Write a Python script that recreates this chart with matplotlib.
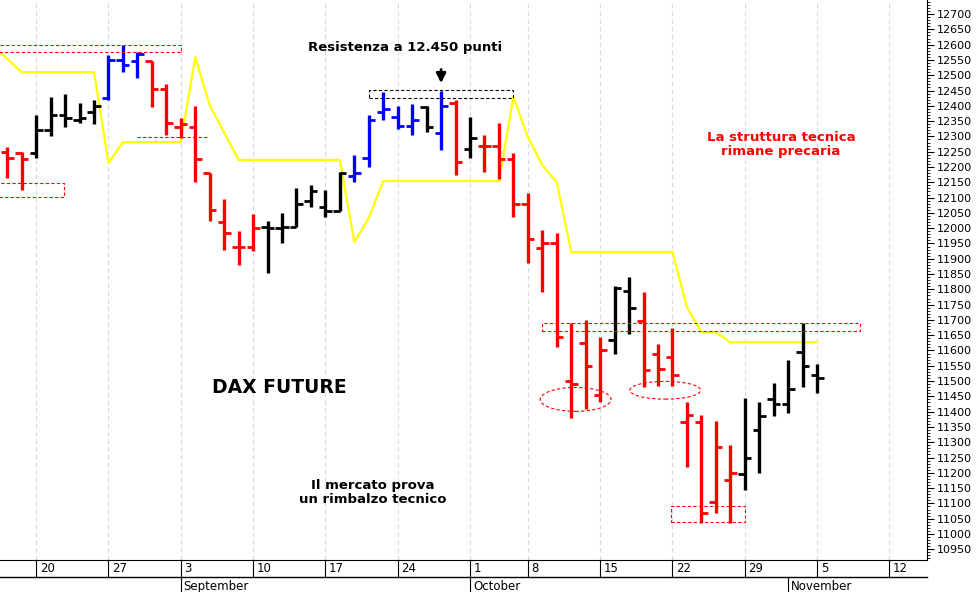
import matplotlib
matplotlib.use("Agg")
import matplotlib.pyplot as plt
from matplotlib.patches import Rectangle, Ellipse
import matplotlib.transforms as mtransforms

# OHLC bars (trading-day index 0 = Aug 16)
opens  = [12250,12245,12245,12320,12370,12355,12380,12425,12550,12545,12545,12455,12330,12330,12180,12020,11940,11940,12005,12000,12005,12090,12070,12055,12170,12230,12380,12365,12335,12395,12310,12410,12260,12270,12270,12225,12080,11935,11950,11500,11625,11455,11635,11795,11695,11590,11580,11365,11365,11105,11175,11195,11340,11440,11425,11595,11520]
highs  = [12265,12250,12370,12430,12440,12410,12420,12565,12600,12575,12545,12470,12360,12400,12180,12095,11990,12045,12025,12050,12130,12140,12125,12185,12240,12370,12445,12400,12405,12400,12450,12420,12365,12305,12345,12245,12115,11995,11985,11690,11700,11645,11810,11840,11790,11620,11675,11430,11390,11370,11290,11445,11430,11495,11570,11690,11555]
lows   = [12163,12125,12230,12300,12330,12345,12340,12420,12510,12490,12395,12305,12295,12150,12025,11930,11880,11925,11855,11950,12005,12070,12035,12055,12150,12200,12355,12325,12305,12315,12255,12175,12230,12185,12160,12035,11885,11790,11610,11380,11410,11430,11590,11655,11480,11485,11485,11220,11035,11070,11035,11145,11200,11385,11395,11480,11460]
closes = [12230,12225,12320,12370,12360,12360,12400,12550,12535,12570,12455,12345,12340,12225,12060,11985,11940,12000,12000,12005,12080,12120,12055,12180,12180,12355,12390,12335,12355,12330,12400,12215,12295,12270,12225,12080,11965,11950,11645,11490,11550,11600,11805,11740,11535,11540,11520,11390,11070,11285,11200,11250,11385,11425,11475,11550,11510]
colors = (['red']*2 + ['black']*5 + ['blue']*3 + ['red']*8 + ['black']*6 + ['blue']*5
          + ['black'] + ['blue'] + ['red'] + ['black'] + ['red']*9 + ['black']*2
          + ['red']*7 + ['black']*6)

# Yellow line vertices (index, value)
yel_x = [-0.5,1,6,7,8,12,13,14,16,23,24,25,26,34,35,36,37,38,39,46,47,48,49,50,56]
yel_y = [12576,12510,12510,12213,12281,12281,12560,12402,12223,12223,11955,12033,12154,12154,12429,12298,12206,12150,11922,11922,11742,11660,11660,11627,11627]

week_idx = [2,7,12,17,22,27,32,36,41,46,51,56,61]
week_lbl = ['20','27','3','10','17','24','1','8','15','22','29','5','12']
month_idx = [12,32,54]
month_lbl = ['September','October','November']

fig = plt.figure(figsize=(9.76,5.92), dpi=100)
ax = fig.add_axes([0, 32/592, 927/976, 560/592])
ax.set_xlim(-0.5, 63.6)
ax.set_ylim(10915, 12746)

for i in week_idx:
    ax.axvline(i, color='#d8d8ee', ls=(0,(4,3)), lw=0.8, zorder=0)

ax.plot(yel_x, yel_y, color='#ffff00', lw=1.6, zorder=2)

for i,(o,h,l,c,col) in enumerate(zip(opens,highs,lows,closes,colors)):
    ax.plot([i,i],[l,h], color=col, lw=2.4, solid_capstyle='butt', zorder=3)
    ax.plot([i-0.45,i],[o,o], color=col, lw=2.0, solid_capstyle='butt', zorder=3)
    ax.plot([i,i+0.45],[c,c], color=col, lw=2.0, solid_capstyle='butt', zorder=3)

def rect(x0,x1,y0,y1,col):
    ax.add_patch(Rectangle((x0,y0),x1-x0,y1-y0, fill=False, ec=col, ls=(0,(3,2)), lw=0.8, zorder=4))
rect(-0.6,12,12576,12599,'red')
rect(-0.6,3.9,12102,12147,'red')
ax.plot([9,13.8],[12298,12298], color='red', ls=(0,(3,2)), lw=0.8)
rect(25,35,12425,12452,'black')
rect(37,59,11663,11690,'red')
rect(45.9,51,11039,11091,'red')
ax.add_patch(Ellipse((39.3,11440),4.9,78, fill=False, ec='red', ls=(0,(3,2)), lw=0.8))
ax.add_patch(Ellipse((45.5,11470),4.9,58, fill=False, ec='red', ls=(0,(3,2)), lw=0.8))

ax.text(27.5,12592,'Resistenza a 12.450 punti', ha='center', va='center', fontsize=9.5, fontweight='bold')
ax.annotate('', xy=(30,12465), xytext=(30,12528),
            arrowprops=dict(arrowstyle='-|>', color='black', lw=2, mutation_scale=14))
ax.text(53.5,12275,'La struttura tecnica\nrimane precaria', ha='center', va='center', color='red',
        fontsize=9.5, fontweight='bold', linespacing=1.1)
ax.text(18.8,11480,'DAX FUTURE', ha='center', va='center', fontsize=13.5, fontweight='bold')
ax.text(25.3,11135,'Il mercato prova\nun rimbalzo tecnico', ha='center', va='center', fontsize=9.5,
        fontweight='bold', linespacing=1.1)

ax.yaxis.tick_right()
ax.set_yticks(list(range(10950,12701,50)))
ax.set_yticks(list(range(10920,12741,10)), minor=True)
ax.tick_params(axis='y', which='major', length=5, labelsize=8, pad=2)
ax.tick_params(axis='y', which='minor', length=2.5)
ax.set_xticks([])
for s in ['top','left']:
    ax.spines[s].set_visible(False)

tr = mtransforms.blended_transform_factory(ax.transData, ax.transAxes)
band = 17/560
ax.plot([-0.5,63.6],[-band,-band], transform=tr, color='black', lw=1, clip_on=False)
for i,lbl in zip(week_idx,week_lbl):
    ax.plot([i,i],[0,-band], transform=tr, color='black', lw=0.8, clip_on=False)
    ax.text(i+0.25,-band/2,lbl, transform=tr, ha='left', va='center', fontsize=8.5, clip_on=False)
for i,lbl in zip(month_idx,month_lbl):
    ax.plot([i,i],[-band,-2.2*band], transform=tr, color='black', lw=0.8, clip_on=False)
    ax.text(i+0.2,-band*1.55,lbl, transform=tr, ha='left', va='center', fontsize=8.5, clip_on=False)

fig.savefig('out.png', dpi=100)
